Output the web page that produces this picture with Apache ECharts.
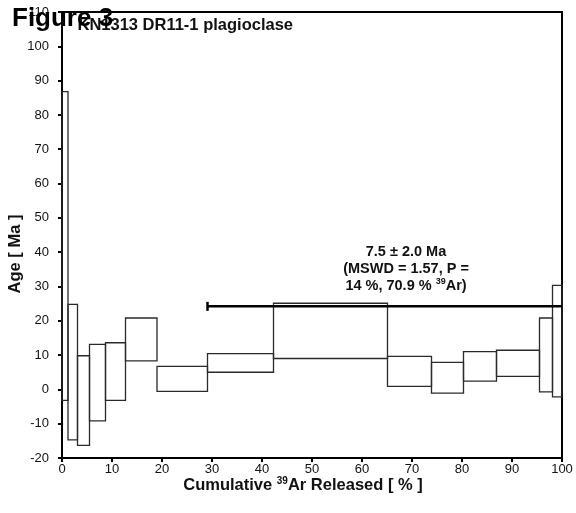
<!DOCTYPE html>
<html><head><meta charset="utf-8">
<script src="https://cdn.jsdelivr.net/npm/echarts@6/dist/echarts.min.js"></script>
<style>html,body{margin:0;padding:0;background:#fff}#c{width:576px;height:513px}</style>
</head><body><div id="c"></div>
<script>
// Cumulative 39Ar steps: [start %, end %, lower age, upper age]
const stepStart = [0, 1.2, 3.1, 5.5, 8.7, 12.7, 19.0, 29.1, 42.3, 65.1, 73.9, 80.3, 86.9, 95.5, 98.1];
const stepEnd   = [1.2, 3.1, 5.5, 8.7, 12.7, 19.0, 29.1, 42.3, 65.1, 73.9, 80.3, 86.9, 95.5, 98.1, 100];
const stepLow   = [-3.2, -14.7, -16.3, -9.2, -3.2, 8.3, -0.6, 5.0, 9.0, 0.9, -1.1, 2.4, 3.8, -0.7, -2.2];
const stepHigh  = [86.8, 24.8, 9.8, 13.1, 13.6, 20.8, 6.7, 10.4, 25.1, 9.6, 7.9, 11.0, 11.4, 20.8, 30.3];
const plateauRange = [29.1, 100];
const plateauLevel = 24.2;
const xTicks = [0, 10, 20, 30, 40, 50, 60, 70, 80, 90, 100];
const yTicks = [-20, -10, 0, 10, 20, 30, 40, 50, 60, 70, 80, 90, 100, 110];

const steps = stepStart.map((s, i) => [s, stepEnd[i], stepLow[i], stepHigh[i]]);

const chart = echarts.init(document.getElementById('c'), null, {renderer: 'canvas'});
const font = 'Arial, "Liberation Sans", sans-serif';
chart.setOption({
  animation: false,
  backgroundColor: '#fff',
  grid: {left: 62, right: 14, top: 12, bottom: 55, containLabel: false, outerBoundsMode: 'none', show: true, borderColor: '#000', borderWidth: 2, backgroundColor: 'transparent'},
  xAxis: {
    type: 'value', min: xTicks[0], max: xTicks[xTicks.length - 1], interval: 10,
    axisLine: {show: true, onZero: false, lineStyle: {color: '#000', width: 2}},
    axisTick: {show: true, inside: false, length: 4, lineStyle: {color: '#000', width: 2}},
    splitLine: {show: false},
    axisLabel: {color: '#111', fontSize: 13, fontFamily: font, margin: 5}
  },
  yAxis: {
    type: 'value', min: yTicks[0], max: yTicks[yTicks.length - 1], interval: 10,
    axisLine: {show: true, onZero: false, lineStyle: {color: '#000', width: 2}},
    axisTick: {show: true, inside: false, length: 4, lineStyle: {color: '#000', width: 2}},
    splitLine: {show: false},
    axisLabel: {color: '#111', fontSize: 13, fontFamily: font, margin: 13}
  },
  series: [
    {
      type: 'custom',
      data: steps,
      renderItem: function (params, api) {
        const p0 = api.coord([api.value(0), api.value(3)]);
        const p1 = api.coord([api.value(1), api.value(2)]);
        return {
          type: 'rect',
          shape: {x: p0[0], y: p0[1], width: p1[0] - p0[0], height: p1[1] - p0[1]},
          style: {fill: 'none', stroke: '#2a2a2a', lineWidth: 1.3}
        };
      },
      z: 2
    },
    {
      type: 'custom',
      data: [[plateauRange[0], plateauRange[1], plateauLevel]],
      renderItem: function (params, api) {
        const a = api.coord([api.value(0), api.value(2)]);
        const b = api.coord([api.value(1), api.value(2)]);
        return {
          type: 'group',
          children: [
            {type: 'line', shape: {x1: a[0], y1: a[1], x2: b[0], y2: b[1]}, style: {stroke: '#000', lineWidth: 2.5}},
            {type: 'line', shape: {x1: a[0], y1: a[1] - 4.5, x2: a[0], y2: a[1] + 4.5}, style: {stroke: '#000', lineWidth: 2.5}}
          ]
        };
      },
      z: 3
    }
  ],
  graphic: [
    {type: 'text', x: 293, y: 25, z: 10, style: {text: 'KN1313 DR11-1 plagioclase', font: 'bold 16.5px ' + font, fill: '#111', align: 'right', verticalAlign: 'middle'}},
    {type: 'text', left: 12, top: 6, z: 11, style: {text: 'Figure 3', font: 'bold 26px ' + font, fill: '#000'}},
    {type: 'text', x: 15, y: 254, rotation: Math.PI / 2, z: 10, style: {text: 'Age [ Ma ]', font: 'bold 16.5px ' + font, fill: '#111', align: 'center', verticalAlign: 'middle'}},
    {type: 'text', x: 303, y: 485, z: 10, style: {
      text: '{b|Cumulative }{s|39}{b|Ar Released [ % ]}',
      align: 'center', verticalAlign: 'middle',
      rich: {
        b: {font: 'bold 16.5px ' + font, fill: '#111'},
        s: {font: 'bold 10px ' + font, fill: '#111', verticalAlign: 'top', padding: [0, 0, 7, 0]}
      }
    }},
    {type: 'text', x: 406, y: 243, z: 10, style: {
      text: '{b|7.5 ± 2.0 Ma}\n{b|(MSWD = 1.57, P =}\n{b|14 %, 70.9 % }{s|39}{b|Ar)}',
      align: 'center', verticalAlign: 'top', lineHeight: 17,
      rich: {
        b: {font: 'bold 14.5px ' + font, fill: '#111', lineHeight: 17},
        s: {font: 'bold 9px ' + font, fill: '#111', lineHeight: 17, verticalAlign: 'top', padding: [0, 0, 6, 0]}
      }
    }}
  ]
});
</script></body></html>
